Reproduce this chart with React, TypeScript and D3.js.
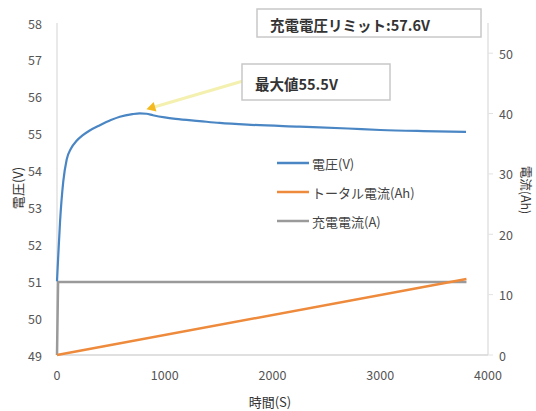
import React from "react";
import * as d3 from "d3";

// Charging test: pack voltage, accumulated charge and charge current over time
const timeS = [0, 10, 28, 58, 90, 130, 180, 240, 300, 398, 500, 583, 700, 768, 830, 890, 1000, 1100, 1324, 1509, 1800, 2250, 2700, 3000, 3400, 3796];
const voltageV = [51.0, 51.6, 52.6, 53.7, 54.3, 54.6, 54.8, 54.96, 55.08, 55.23, 55.37, 55.46, 55.53, 55.55, 55.54, 55.5, 55.44, 55.4, 55.34, 55.29, 55.24, 55.19, 55.14, 55.1, 55.07, 55.05];

const chargeTime = [0, 3800];
const chargeAh = [0, 12.6];

const currentTime = [0, 10, 3800];
const currentA = [0, 12.1, 12.1];

const xTicks = [0, 1000, 2000, 3000, 4000];
const leftTicks = [49, 50, 51, 52, 53, 54, 55, 56, 57, 58];
const rightTicks = [0, 10, 20, 30, 40, 50];

const peakTime = 830;
const peakVoltage = 55.5;

const legendItems = [
  { label: "電圧(V)", color: "#4a86c4" },
  { label: "トータル電流(Ah)", color: "#ee8a3c" },
  { label: "充電電流(A)", color: "#9a9a9a" },
];

const FONT = "'Noto Sans CJK JP', 'Noto Sans', sans-serif";

export default function App() {
  const W = 536;
  const H = 411;
  const x = d3.scaleLinear().domain([0, 4000]).range([57, 488]);
  const yL = d3.scaleLinear().domain([49, 58]).range([355, 23]);
  const yR = d3.scaleLinear().domain([0, 55]).range([355, 23]);

  const vLine = d3
    .line<number>()
    .x((_, i) => x(timeS[i]))
    .y((d) => yL(d))
    .curve(d3.curveMonotoneX)(voltageV);
  const ahLine = d3
    .line<number>()
    .x((_, i) => x(chargeTime[i]))
    .y((d) => yR(d))(chargeAh);
  const aLine = d3
    .line<number>()
    .x((_, i) => x(currentTime[i]))
    .y((d) => yR(d))(currentA);

  const px = x(peakTime);
  const py = yL(peakVoltage) - 6;
  const ax0 = 243;
  const ay0 = 81;
  const ang = Math.atan2(py - ay0, px - ax0);
  const headLen = 9;
  const headW = 5;
  const hx = px - Math.cos(ang) * headLen;
  const hy = py - Math.sin(ang) * headLen;
  const head = [
    [px, py],
    [hx + Math.sin(ang) * headW, hy - Math.cos(ang) * headW],
    [hx - Math.sin(ang) * headW, hy + Math.cos(ang) * headW],
  ]
    .map((p) => p.join(","))
    .join(" ");

  return (
    <svg width={W} height={H} style={{ position: "absolute", left: 0, top: 0, background: "#fff" }} fontFamily={FONT}>
      {/* axes frame */}
      <line x1={57} x2={57} y1={23} y2={355} stroke="#e2e2e2" strokeWidth={1.5} />
      <line x1={488} x2={488} y1={23} y2={355} stroke="#e2e2e2" strokeWidth={1.5} />
      <line x1={57} x2={488} y1={355} y2={355} stroke="#d6d6d6" strokeWidth={1.5} />

      {/* left axis */}
      {leftTicks.map((t) => (
        <text key={"l" + t} x={42} y={yL(t)} textAnchor="end" dominantBaseline="central" fontSize={12.5} fill="#555">
          {t}
        </text>
      ))}
      {/* right axis */}
      {rightTicks.map((t) => (
        <g key={"r" + t}>
          <line x1={488} x2={493} y1={yR(t)} y2={yR(t)} stroke="#e2e2e2" />
          <text x={499} y={yR(t)} textAnchor="start" dominantBaseline="central" fontSize={12.5} fill="#555">
            {t}
          </text>
        </g>
      ))}
      {/* x axis */}
      {xTicks.map((t) => (
        <text key={"x" + t} x={x(t)} y={374} textAnchor="middle" dominantBaseline="central" fontSize={12.5} fill="#555">
          {t}
        </text>
      ))}

      <text x={270} y={401} textAnchor="middle" dominantBaseline="central" fontSize={13} fill="#333">
        時間(S)
      </text>
      <text transform="translate(17,188) rotate(-90)" textAnchor="middle" dominantBaseline="central" fontSize={13} fill="#333">
        電圧(V)
      </text>
      <text transform="translate(526,190) rotate(90)" textAnchor="middle" dominantBaseline="central" fontSize={12.5} fill="#333">
        電流(Ah)
      </text>

      {/* series */}
      <path d={aLine ?? ""} fill="none" stroke="#9a9a9a" strokeWidth={2.5} />
      <path d={ahLine ?? ""} fill="none" stroke="#ee8a3c" strokeWidth={2.5} />
      <path d={vLine ?? ""} fill="none" stroke="#4a86c4" strokeWidth={2.2} />

      {/* annotation arrow to the voltage peak */}
      <line x1={ax0} y1={ay0} x2={hx} y2={hy} stroke="#f4f1b0" strokeWidth={3} />
      <polygon points={head} fill="#f3b91e" />

      {/* annotation boxes */}
      <rect x={242} y={64} width={148} height={36} fill="#fff" stroke="#c8c8c8" strokeWidth={1.5} />
      <text x={255} y={83} dominantBaseline="central" fontSize={14.5} fontWeight={700} fill="#333">
        最大値55.5V
      </text>
      <rect x={257} y={9} width={224} height={28} fill="#fff" stroke="#c8c8c8" strokeWidth={1.5} />
      <text x={270} y={24} dominantBaseline="central" fontSize={14.5} fontWeight={700} fill="#333">
        充電電圧リミット:57.6V
      </text>

      {/* legend */}
      {legendItems.map((d, i) => (
        <g key={d.label} transform={`translate(277,${163 + i * 29})`}>
          <line x1={0} x2={32} y1={0} y2={0} stroke={d.color} strokeWidth={2.5} />
          <text x={35} y={0} dominantBaseline="central" fontSize={13} fill="#444">
            {d.label}
          </text>
        </g>
      ))}
    </svg>
  );
}
